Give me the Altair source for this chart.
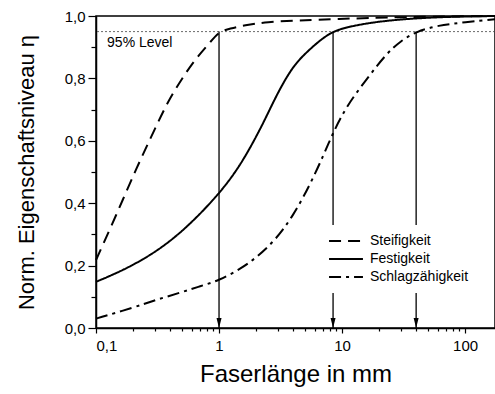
import altair as alt
import pandas as pd

# ---- data ----
series_names = ["Steifigkeit", "Festigkeit", "Schlagzähigkeit"]

steif_x = [0.1, 0.1455, 0.2115, 0.307, 0.383, 0.5, 0.65, 0.845, 1.0, 1.23, 1.6, 2.44, 4.5, 8.45, 30, 175]
steif_y = [0.218, 0.36, 0.51, 0.645, 0.725, 0.80, 0.865, 0.915, 0.95, 0.960, 0.970, 0.981, 0.986, 0.99, 0.997, 1.0]

fest_x = [0.1, 0.1455, 0.2115, 0.307, 0.447, 0.65, 1.0, 1.48, 2.15, 2.6, 3.13, 3.8, 4.56, 6.62, 8.45, 11.6, 20, 40, 80, 175]
fest_y = [0.148, 0.175, 0.207, 0.245, 0.293, 0.352, 0.43, 0.518, 0.635, 0.703, 0.767, 0.824, 0.865, 0.923, 0.951, 0.967, 0.983, 0.993, 0.998, 1.0]

schlag_x = [0.1, 0.2, 0.307, 0.5, 0.7, 1.0, 1.5, 2, 2.85, 4.0, 5.5, 7, 8.45, 10.9, 16, 23, 30, 40, 60, 100, 175]
schlag_y = [0.03, 0.065, 0.09, 0.115, 0.134, 0.152, 0.19, 0.225, 0.28, 0.359, 0.46, 0.55, 0.626, 0.712, 0.80, 0.88, 0.92, 0.95, 0.97, 0.98, 0.99]

arrow_x = [1.0, 8.45, 40.0]
level_value = 0.95
level_text = "95% Level"
level_text_x = 0.123
level_text_y = 0.915

x_domain = [0.1, 175]
y_domain = [0.0, 1.0]
x_tick_values = [0.1, 0.2, 0.3, 0.4, 0.5, 0.6, 0.7, 0.8, 0.9,
                 1, 2, 3, 4, 5, 6, 7, 8, 9,
                 10, 20, 30, 40, 50, 60, 70, 80, 90, 100]
y_tick_values = [0.0, 0.1, 0.2, 0.3, 0.4, 0.5, 0.6, 0.7, 0.8, 0.9, 1.0]

# ---- build tables ----
rows = []
for name, xs, ys in [(series_names[0], steif_x, steif_y),
                     (series_names[1], fest_x, fest_y),
                     (series_names[2], schlag_x, schlag_y)]:
    for i, (a, b) in enumerate(zip(xs, ys)):
        rows.append({"series": name, "x": a, "y": b, "order": i})
curves = pd.DataFrame(rows)
arrows = pd.DataFrame({"x": arrow_x, "ytop": [level_value] * len(arrow_x), "ybot": [0.0] * len(arrow_x)})
level = pd.DataFrame({"y": [level_value]})
label = pd.DataFrame({"x": [level_text_x], "y": [level_text_y], "t": [level_text]})

FONT = "Liberation Sans"

x_major = "indexof([0.1,1,10,100], datum.value) >= 0"
y_major = "indexof([0,0.2,0.4,0.6,0.8,1], datum.value) >= 0"

x_axis = alt.Axis(
    title="Faserlänge in mm", values=x_tick_values, format="~g",
    labelExpr=f"{x_major} ? replace(datum.label, '.', ',') : ''",
    tickSize={"condition": {"test": x_major, "value": 5}, "value": 3},
    labelOverlap=False, labelPadding=5, titlePadding=9, titleFontSize=24,
)
y_axis = alt.Axis(
    title="Norm. Eigenschaftsniveau η", values=y_tick_values, format=".1f",
    labelExpr=f"{y_major} ? replace(datum.label, '.', ',') : ''",
    tickSize={"condition": {"test": y_major, "value": 8}, "value": 5},
    labelOverlap=False, labelPadding=3, titlePadding=26, titleFontSize=22,
)
x_scale = alt.Scale(type="log", domain=x_domain, nice=False)
y_scale = alt.Scale(domain=y_domain, nice=False, zero=False)


def X(field):
    return alt.X(field, type="quantitative", scale=x_scale, axis=x_axis)


def Y(field):
    return alt.Y(field, type="quantitative", scale=y_scale, axis=y_axis)


level_line = alt.Chart(level).mark_rule(
    color="#444", strokeWidth=0.8, strokeDash=[2, 2]
).encode(y=Y("y"))

level_label = alt.Chart(label).mark_text(
    align="left", baseline="middle", font=FONT, fontSize=14, color="black"
).encode(x=X("x"), y=Y("y"), text="t:N")

arrow_lines = alt.Chart(arrows).mark_rule(color="black", strokeWidth=1.3).encode(
    x=X("x"), y=Y("ytop"), y2="ybot"
)
arrow_heads = alt.Chart(arrows).mark_point(
    shape="M -0.5 -1 L 0.5 -1 L 0 1 Z", size=100, filled=True,
    color="black", opacity=1, strokeWidth=0, yOffset=-5
).encode(x=X("x"), y=Y("ybot"))

lines = alt.Chart(curves).mark_line(
    color="black", strokeWidth=2, interpolate="basis"
).encode(
    x=X("x"), y=Y("y"), order="order:Q",
    strokeDash=alt.StrokeDash(
        "series:N",
        scale=alt.Scale(domain=series_names, range=[[12, 7], [1, 0], [12, 5, 3, 5]]),
        sort=series_names,
        legend=alt.Legend(
            title=None, orient="none", legendX=225, legendY=209,
            symbolType="stroke", symbolSize=1150, symbolStrokeWidth=2,
            symbolStrokeColor="black", clipHeight=18, rowPadding=0,
            labelFont=FONT, labelFontSize=14, labelColor="black", labelOffset=6,
            fillColor="white", padding=7,
        ),
    ),
)

chart = alt.layer(level_line, level_label, arrow_lines, arrow_heads, lines).properties(
    width=399, height=312,
    padding={"left": 96, "top": 16, "right": 0, "bottom": 66},
    autosize=alt.AutoSizeParams(type="none"),
).configure_view(
    stroke="black", strokeWidth=1.5
).configure_axis(
    grid=False, domainColor="black", domainWidth=1.5, tickColor="black", tickWidth=1.2,
    labelFont=FONT, labelFontSize=15, labelColor="black",
    titleFont=FONT, titleFontWeight="normal", titleColor="black",
)

chart.save("out.html", embed_options={"renderer": "svg", "actions": False})
